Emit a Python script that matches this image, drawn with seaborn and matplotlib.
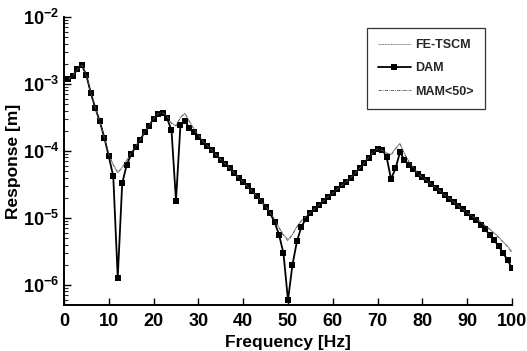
import numpy as np
import pandas as pd
import matplotlib
matplotlib.use("Agg")
import matplotlib.pyplot as plt
import seaborn as sns
from matplotlib.ticker import LogLocator, FixedLocator, NullFormatter, FuncFormatter

# ---------------- data ----------------
freq = list(range(1, 101))

dam_log10 = [
    -2.93, -2.876, -2.78, -2.72, -2.87, -3.14, -3.36, -3.56, -3.80, -4.08,
    -4.38, -5.89, -4.48, -4.21, -4.05, -3.94, -3.84, -3.72, -3.62, -3.52,
    -3.45, -3.44, -3.51, -3.69, -4.74, -3.61, -3.55, -3.66, -3.72, -3.79,
    -3.86, -3.92, -3.99, -4.06, -4.13, -4.19, -4.26, -4.33, -4.40, -4.46,
    -4.53, -4.60, -4.67, -4.75, -4.83, -4.93, -5.06, -5.25, -5.53, -6.23,
    -5.70, -5.35, -5.13, -5.01, -4.92, -4.86, -4.80, -4.74, -4.68, -4.63,
    -4.57, -4.51, -4.46, -4.40, -4.33, -4.26, -4.18, -4.10, -4.02, -3.975,
    -3.98, -4.085, -4.42, -4.26, -4.02, -4.13, -4.21, -4.27, -4.34, -4.39,
    -4.44, -4.50, -4.55, -4.60, -4.66, -4.71, -4.76, -4.82, -4.87, -4.92,
    -4.98, -5.03, -5.10, -5.17, -5.25, -5.33, -5.42, -5.52, -5.63, -5.75,
]

fe_log10 = [
    -2.93, -2.876, -2.78, -2.72, -2.87, -3.14, -3.36, -3.56, -3.80, -4.05,
    -4.20, -4.31, -4.24, -4.14, -4.03, -3.93, -3.84, -3.72, -3.62, -3.52,
    -3.44, -3.43, -3.48, -3.58, -3.62, -3.50, -3.44, -3.56, -3.67, -3.76,
    -3.86, -3.92, -3.99, -4.06, -4.13, -4.19, -4.26, -4.33, -4.40, -4.46,
    -4.53, -4.60, -4.67, -4.75, -4.83, -4.92, -5.02, -5.14, -5.25, -5.32,
    -5.24, -5.13, -5.04, -4.98, -4.92, -4.86, -4.80, -4.74, -4.68, -4.63,
    -4.57, -4.51, -4.46, -4.40, -4.33, -4.26, -4.18, -4.10, -4.02, -3.97,
    -3.99, -4.03, -4.05, -3.96, -3.885, -4.04, -4.16, -4.25, -4.34, -4.39,
    -4.44, -4.50, -4.55, -4.60, -4.66, -4.71, -4.76, -4.82, -4.87, -4.92,
    -4.97, -5.01, -5.06, -5.11, -5.16, -5.22, -5.28, -5.35, -5.42, -5.50,
]

mam_log10 = [
    -2.93, -2.876, -2.78, -2.72, -2.87, -3.14, -3.36, -3.56, -3.80, -4.05,
    -4.21, -4.33, -4.25, -4.14, -4.03, -3.93, -3.84, -3.72, -3.62, -3.52,
    -3.44, -3.43, -3.48, -3.59, -3.63, -3.50, -3.44, -3.56, -3.67, -3.76,
    -3.86, -3.92, -3.99, -4.06, -4.13, -4.19, -4.26, -4.33, -4.40, -4.46,
    -4.53, -4.60, -4.67, -4.75, -4.83, -4.92, -5.02, -5.15, -5.26, -5.34,
    -5.25, -5.13, -5.04, -4.98, -4.92, -4.86, -4.80, -4.74, -4.68, -4.63,
    -4.57, -4.51, -4.46, -4.40, -4.33, -4.26, -4.18, -4.10, -4.02, -3.97,
    -3.99, -4.03, -4.06, -3.97, -3.90, -4.04, -4.16, -4.25, -4.34, -4.39,
    -4.44, -4.50, -4.55, -4.60, -4.66, -4.71, -4.76, -4.82, -4.87, -4.92,
    -4.97, -5.01, -5.06, -5.12, -5.17, -5.23, -5.29, -5.36, -5.43, -5.52,
]

series_names = ["FE-TSCM", "DAM", "MAM<50>"]
x_ticks = [0, 10, 20, 30, 40, 50, 60, 70, 80, 90, 100]
y_decades = [-6, -5, -4, -3, -2]

# ---------------- plot ----------------
sns.set_theme(style="ticks")
plt.rcParams["font.family"] = ["Liberation Sans", "DejaVu Sans"]
plt.rcParams["font.weight"] = "bold"
plt.rcParams["mathtext.fontset"] = "custom"
plt.rcParams["mathtext.rm"] = "Liberation Sans:bold"

fig = plt.figure(figsize=(5.27, 3.51), dpi=100)
ax = fig.add_axes([0.1214, 0.131, 0.8501, 0.8206])

fe = pd.DataFrame({"f": freq, "r": np.power(10.0, fe_log10)})
dam = pd.DataFrame({"f": freq, "r": np.power(10.0, dam_log10)})
mam = pd.DataFrame({"f": freq, "r": np.power(10.0, mam_log10)})

sns.lineplot(data=fe, x="f", y="r", ax=ax, color="#777777", lw=0.7,
             linestyle=(0, (1, 0.6)), label=series_names[0])
sns.lineplot(data=dam, x="f", y="r", ax=ax, color="black", lw=1.3,
             marker="s", markersize=3.8, markeredgewidth=0, label=series_names[1])
sns.lineplot(data=mam, x="f", y="r", ax=ax, color="#555555", lw=0.6,
             linestyle=(0, (4, 1.2, 1, 1.2)), label=series_names[2])

ax.set_yscale("log")
ax.set_xlim(0, 100)
ax.set_ylim(10 ** -6.30, 1e-2)

ax.xaxis.set_major_locator(FixedLocator(x_ticks))
ax.yaxis.set_major_locator(FixedLocator([10.0 ** d for d in y_decades]))
ax.yaxis.set_minor_locator(LogLocator(base=10, subs=np.arange(2, 10)))
ax.yaxis.set_minor_formatter(NullFormatter())
ax.yaxis.set_major_formatter(FuncFormatter(
    lambda v, p: r"$\mathregular{10^{%d}}$" % int(round(np.log10(v)))))

ax.tick_params(axis="both", which="major", direction="in", length=5, width=1,
               labelsize=13, color="black", labelcolor="black")
ax.tick_params(axis="y", which="minor", direction="in", length=3, width=0.8)
ax.tick_params(axis="x", which="major", pad=6)
for lab in ax.get_xticklabels() + ax.get_yticklabels():
    lab.set_fontweight("bold")

for s in ["top", "right"]:
    ax.spines[s].set_visible(False)
for s in ["left", "bottom"]:
    ax.spines[s].set_color("black")
    ax.spines[s].set_linewidth(1.4)

ax.set_xlabel("Frequency [Hz]", fontsize=12.5, fontweight="bold", color="black", labelpad=3)
ax.set_ylabel("Response [m]", fontsize=12.5, fontweight="bold", color="black", labelpad=1)

leg = ax.legend(loc="upper left", bbox_to_anchor=(0.676, 0.962),
                prop={"size": 9, "weight": "bold"},
                frameon=True, fancybox=False, edgecolor="black",
                handlelength=2.6, borderpad=0.9, labelspacing=0.9,
                handletextpad=0.4, borderaxespad=0)
leg.get_frame().set_linewidth(0.9)

fig.savefig("out.png", dpi=100)
